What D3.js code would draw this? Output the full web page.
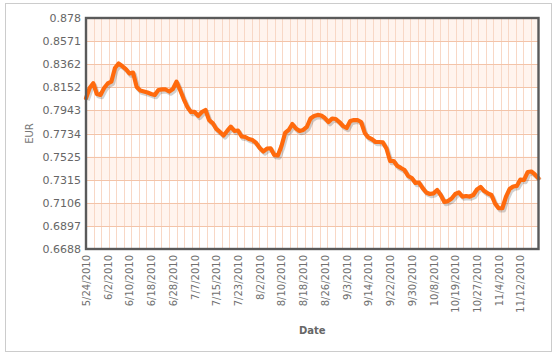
<!DOCTYPE html>
<html><head><meta charset="utf-8">
<script src="https://cdn.jsdelivr.net/npm/d3@7"></script>
<style>html,body{margin:0;padding:0;background:#fff;}svg{display:block;}</style>
</head><body>
<script>
const dates = [
"5/24/2010","5/25/2010","5/26/2010","5/27/2010","5/28/2010",
"6/1/2010","6/2/2010","6/3/2010","6/4/2010","6/7/2010","6/8/2010","6/9/2010","6/10/2010","6/11/2010",
"6/14/2010","6/15/2010","6/16/2010","6/17/2010","6/18/2010","6/21/2010","6/22/2010","6/23/2010","6/24/2010","6/25/2010",
"6/28/2010","6/29/2010","6/30/2010","7/1/2010","7/2/2010","7/6/2010","7/7/2010","7/8/2010","7/9/2010",
"7/12/2010","7/13/2010","7/14/2010","7/15/2010","7/16/2010","7/19/2010","7/20/2010","7/21/2010","7/22/2010","7/23/2010",
"7/26/2010","7/27/2010","7/28/2010","7/29/2010","7/30/2010","8/2/2010","8/3/2010","8/4/2010","8/5/2010","8/6/2010",
"8/9/2010","8/10/2010","8/11/2010","8/12/2010","8/13/2010","8/16/2010","8/17/2010","8/18/2010","8/19/2010","8/20/2010",
"8/23/2010","8/24/2010","8/25/2010","8/26/2010","8/27/2010","8/30/2010","8/31/2010","9/1/2010","9/2/2010","9/3/2010",
"9/7/2010","9/8/2010","9/9/2010","9/10/2010","9/13/2010","9/14/2010","9/15/2010","9/16/2010","9/17/2010",
"9/20/2010","9/21/2010","9/22/2010","9/23/2010","9/24/2010","9/27/2010","9/28/2010","9/29/2010","9/30/2010","10/1/2010",
"10/4/2010","10/5/2010","10/6/2010","10/7/2010","10/8/2010","10/12/2010","10/13/2010","10/14/2010","10/15/2010",
"10/18/2010","10/19/2010","10/20/2010","10/21/2010","10/22/2010","10/25/2010","10/26/2010","10/27/2010","10/28/2010","10/29/2010",
"11/1/2010","11/2/2010","11/3/2010","11/4/2010","11/5/2010","11/8/2010","11/9/2010","11/10/2010","11/11/2010","11/12/2010",
"11/15/2010","11/16/2010","11/17/2010","11/18/2010","11/19/2010"
];
const eur = [
0.8053,0.8146,0.8189,0.8092,0.8083,0.8146,0.8187,0.8203,0.8327,0.8368,
0.8345,0.8318,0.8277,0.8286,0.8155,0.8123,0.8114,0.8105,0.8092,0.8083,
0.8128,0.8133,0.8133,0.8114,0.8137,0.8203,0.8128,0.8046,0.7974,0.7929,
0.7929,0.7893,0.7929,0.7947,0.7856,0.7829,0.7775,0.7748,0.7716,0.7757,
0.7796,0.7757,0.7761,0.7707,0.7702,0.7684,0.7675,0.7648,0.7603,0.7571,
0.7598,0.7600,0.7539,0.7535,0.7621,0.7739,0.7766,0.7820,0.7779,0.7757,
0.7766,0.7793,0.7870,0.7893,0.7902,0.7897,0.7874,0.7838,0.7870,0.7865,
0.7838,0.7802,0.7784,0.7847,0.7856,0.7856,0.7838,0.7739,0.7698,0.7682,
0.7657,0.7657,0.7653,0.7598,0.7485,0.7485,0.7440,0.7422,0.7403,0.7349,
0.7331,0.7286,0.7290,0.7240,0.7200,0.7186,0.7192,0.7222,0.7177,0.7114,
0.7123,0.7145,0.7186,0.7200,0.7163,0.7168,0.7163,0.7177,0.7227,0.7250,
0.7213,0.7192,0.7177,0.7100,0.7057,0.7057,0.7159,0.7231,0.7254,0.7259,
0.7317,0.7313,0.7385,0.7390,0.7363,0.7328
];
const yTickLabels = ["0.6688","0.6897","0.7106","0.7315","0.7525","0.7734","0.7943","0.8152","0.8362","0.8571","0.878"];
const xTickLabels = ["5/24/2010","6/2/2010","6/10/2010","6/18/2010","6/28/2010","7/7/2010","7/15/2010","7/23/2010","8/2/2010","8/10/2010","8/18/2010","8/26/2010","9/3/2010","9/14/2010","9/22/2010","9/30/2010","10/8/2010","10/19/2010","10/27/2010","11/4/2010","11/12/2010"];
const yTitle = "EUR", xTitle = "Date";

const W = 558, H = 360;
const L = 86, R = 538.5, T = 18, B = 249;
const svg = d3.select("body").append("svg").attr("width", W).attr("height", H);
const font = "'DejaVu Sans', Verdana, sans-serif";

svg.append("rect").attr("x", 5.5).attr("y", 3.5).attr("width", 546).attr("height", 348)
  .attr("fill", "#fff").attr("stroke", "#cccccc").attr("stroke-width", 1);

const x = d3.scalePoint().domain(dates).range([L, R]);
const yVals = yTickLabels.map(Number);
const y = d3.scaleLinear().domain([yVals[0], yVals[yVals.length - 1]]).range([B, T]);

const g = svg.append("g");
for (let i = 0; i < yVals.length - 1; i++) {
  if ((yVals.length - 2 - i) % 2 === 0) {
    g.append("rect").attr("x", L).attr("width", R - L)
      .attr("y", y(yVals[i + 1])).attr("height", y(yVals[i]) - y(yVals[i + 1]))
      .attr("fill", "#fff4ee");
  }
}
const nV = 60;
const xg = d3.scaleLinear().domain([0, nV]).range([L, R]);
g.selectAll("line.vg").data(d3.range(1, nV)).join("line")
  .attr("x1", d => Math.round(xg(d)) + 0.5).attr("x2", d => Math.round(xg(d)) + 0.5)
  .attr("y1", T).attr("y2", B).attr("stroke", "#f8d8c6").attr("stroke-width", 1);
g.selectAll("line.hg").data(yVals.slice(1, -1)).join("line")
  .attr("x1", L).attr("x2", R).attr("y1", d => Math.round(y(d)) + 0.5).attr("y2", d => Math.round(y(d)) + 0.5)
  .attr("stroke", "#f3c4a9").attr("stroke-width", 1);

const line = d3.line().x((d, i) => x(dates[i])).y(d => y(d));
svg.append("path").datum(eur).attr("d", line).attr("fill", "none")
  .attr("stroke", "#000").attr("stroke-opacity", 0.18).attr("stroke-width", 4.5)
  .attr("stroke-linejoin", "round").attr("transform", "translate(1.5,2)");
svg.append("path").datum(eur).attr("d", line).attr("fill", "none")
  .attr("stroke", "#ff6a0d").attr("stroke-width", 4.2)
  .attr("stroke-linejoin", "round").attr("stroke-linecap", "round");

svg.append("rect").attr("x", L).attr("y", T).attr("width", R - L).attr("height", B - T)
  .attr("fill", "none").attr("stroke", "#5a5a5a").attr("stroke-width", 2.4);

const yAxis = d3.axisLeft(y).tickValues(yVals).tickFormat((d, i) => yTickLabels[i]).tickSize(0).tickPadding(5);
const ya = svg.append("g").attr("transform", `translate(${L},0)`).call(yAxis);
ya.select(".domain").remove();
ya.selectAll("text").attr("font-family", font).attr("font-size", 11).attr("fill", "#666");

const xAxis = d3.axisBottom(x).tickValues(xTickLabels).tickSize(0).tickPadding(0);
const xa = svg.append("g").attr("transform", `translate(0,${B})`).call(xAxis);
xa.select(".domain").remove();
xa.selectAll("text").attr("font-family", font).attr("font-size", 10).attr("fill", "#707070")
  .attr("text-anchor", "end").attr("dy", null)
  .attr("transform", "rotate(-90)").attr("x", -6).attr("y", 0).attr("dominant-baseline", "central");

svg.append("text").attr("transform", `translate(33,${(T + B) / 2}) rotate(-90)`)
  .attr("text-anchor", "middle").attr("font-family", font).attr("font-size", 10).attr("fill", "#777").text(yTitle);
svg.append("text").attr("x", (L + R) / 2).attr("y", 334).attr("text-anchor", "middle")
  .attr("font-family", font).attr("font-size", 10).attr("font-weight", "bold").attr("fill", "#666").text(xTitle);
</script>
</body></html>
